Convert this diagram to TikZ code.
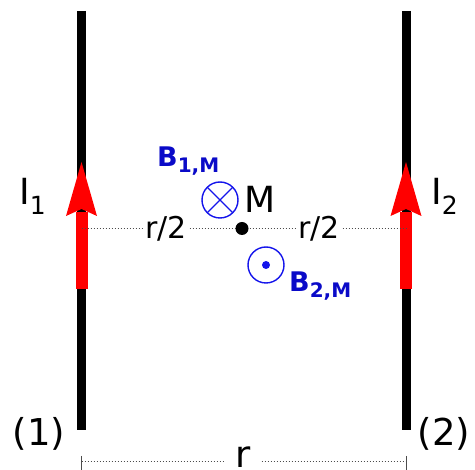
\documentclass[tikz,border=0pt]{standalone}
\usepackage{fontspec}
\setmainfont{DejaVu Sans}
\newcommand{\lowsub}[3]{\raisebox{-#1}{\fontsize{#2}{#2}\selectfont #3}}
\definecolor{fieldblue}{RGB}{20,20,235}
\definecolor{labelblue}{RGB}{10,10,200}
\begin{document}
\begin{tikzpicture}[x=1pt,y=-1pt,
  wire/.style={line width=9pt,black},
  cur/.style={fill=red,draw=none},
  dotline/.style={line width=1pt,dotted,black!70},
  big/.style={font=\fontsize{36}{40}\selectfont,inner sep=0pt},
  half/.style={font=\fontsize{30}{34}\selectfont,inner sep=2pt,fill=white},
  blab/.style={font=\fontsize{27}{30}\selectfont\bfseries,text=labelblue,inner sep=0pt},
  fcirc/.style={draw=fieldblue,line width=1.4pt}]
\useasboundingbox (0,0) rectangle (475,470);
% wires
\coordinate (w1t) at (81.5,11);
\coordinate (w1b) at (81.5,430);
\coordinate (w2t) at (406,11);
\coordinate (w2b) at (406,430);
\draw[wire] (w1t) -- (w1b);
\draw[wire] (w2t) -- (w2b);
% current arrows
\foreach \xx in {81.5,406}{
  \fill[cur] (\xx-6,289) rectangle (\xx+6,212);
  \fill[cur] (\xx-15.5,216) -- (\xx,162) -- (\xx+15.5,216) -- (\xx,209) -- cycle;
}
% midline
\coordinate (m1) at (81.5,228.5);
\coordinate (m2) at (406,228.5);
\draw[dotline] (m1) -- (m2);
\node[half] (h1) at (166,229) {r/2};
\node[half] (h2) at (319,229) {r/2};
\fill (242,228.5) circle (6.5);
\node[big,anchor=base west] (M) at (244,213) {M};
% field symbols
\draw[fcirc] (220,200) circle (18);
\draw[fcirc] (220,200) ++(45:18) -- ++(225:36);
\draw[fcirc] (220,200) ++(135:18) -- ++(315:36);
\draw[fcirc] (266,265) circle (18);
\fill[fieldblue] (266,265) circle (4);
\node[blab,anchor=base west] (B1) at (157,167) {B\lowsub{6pt}{20}{1,M}};
\node[blab,anchor=base west] (B2) at (289,292) {B\lowsub{6pt}{20}{2,M}};
% current labels
\node[big,anchor=base west] (I1) at (19,205) {I\lowsub{10pt}{25}{1}};
\node[big,anchor=base west] (I2) at (431,205) {I\lowsub{10pt}{25}{2}};
% wire numbers
\node[big,font=\fontsize{37}{40}\selectfont] (n1) at (39,434) {(1)};
\node[big,font=\fontsize{37}{40}\selectfont] (n2) at (444,434) {(2)};
% distance
\coordinate (d1) at (81.5,462);
\coordinate (d2) at (406,462);
\draw[dotline] (d1) -- (d2);
\draw[line width=1pt,black!70] (81.5,456) -- (81.5,472) (406,456) -- (406,472);
\node[big,font=\fontsize{37}{40}\selectfont,fill=white,inner xsep=10pt,inner ysep=1pt,anchor=base] (r) at (243,468) {r};
\end{tikzpicture}
\end{document}
